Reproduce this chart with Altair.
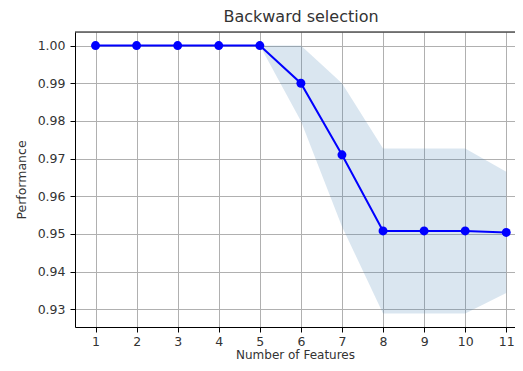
import altair as alt
import pandas as pd

n_features = [1, 2, 3, 4, 5, 6, 7, 8, 9, 10, 11]
performance = [1.0, 1.0, 1.0, 1.0, 1.0, 0.990, 0.971, 0.9508, 0.9508, 0.9508, 0.9504]
upper = [1.0, 1.0, 1.0, 1.0, 1.0, 1.0, 0.990, 0.9727, 0.9727, 0.9727, 0.9665]
lower = [1.0, 1.0, 1.0, 1.0, 1.0, 0.980, 0.952, 0.9289, 0.9289, 0.9289, 0.9343]
y_ticks = [0.93, 0.94, 0.95, 0.96, 0.97, 0.98, 0.99, 1.00]

df = pd.DataFrame({"k": n_features, "perf": performance, "hi": upper, "lo": lower})

FONT = "DejaVu Sans"
TXT = "#333333"
PLOT_W = 440

x_scale = alt.Scale(domain=[0.5, 11.213], nice=False, zero=False)
y_scale = alt.Scale(domain=[0.9253, 1.0036], nice=False, zero=False)

x_axis = alt.Axis(
    title="Number of Features", values=n_features, format="d",
    grid=True, gridColor="#b0b0b0", gridWidth=1,
    domainColor="#000000", domainWidth=1,
    tickColor="#000000", tickSize=5, labelPadding=3,
    labelFont=FONT, labelFontSize=12.5, labelColor=TXT,
    titleFont=FONT, titleFontSize=12, titleColor=TXT, titleFontWeight="normal",
    titlePadding=2, labelAngle=0,
)
y_axis = alt.Axis(
    title="Performance", values=y_ticks, format=".2f",
    grid=True, gridColor="#b0b0b0", gridWidth=1,
    domainColor="#000000", domainWidth=1,
    tickColor="#000000", tickSize=5, labelPadding=5,
    labelFont=FONT, labelFontSize=12.5, labelColor=TXT,
    titleFont=FONT, titleFontSize=12.5, titleColor=TXT, titleFontWeight="normal",
    titlePadding=9,
)

base = alt.Chart(df)

band = base.mark_area(color="steelblue", opacity=0.2).encode(
    x=alt.X("k:Q", scale=x_scale, axis=x_axis),
    y=alt.Y("lo:Q", scale=y_scale, axis=y_axis),
    y2="hi:Q",
)
line = base.mark_line(color="#0000ff", strokeWidth=2).encode(
    x=alt.X("k:Q", scale=x_scale),
    y=alt.Y("perf:Q", scale=y_scale),
)
pts = base.mark_circle(color="#0000ff", size=80, opacity=1).encode(
    x=alt.X("k:Q", scale=x_scale),
    y=alt.Y("perf:Q", scale=y_scale),
)
top_border = alt.Chart(pd.DataFrame({"a": [0]})).mark_rule(
    color="#000000", strokeWidth=1
).encode(x=alt.value(0), x2=alt.value(PLOT_W), y=alt.value(0))

chart = (
    alt.layer(band, line, pts, top_border)
    .properties(
        width=PLOT_W, height=295,
        title=alt.TitleParams("Backward selection", font=FONT, fontSize=16,
                              fontWeight="normal", color=TXT, offset=7, dx=6),
        autosize=alt.AutoSizeParams(type="none"),
        padding={"left": 67, "top": 24, "right": 0, "bottom": 36},
    )
    .configure_view(stroke=None)
    .configure(background="white")
)

chart.save("out.html", embed_options={"renderer": "svg", "actions": False})
